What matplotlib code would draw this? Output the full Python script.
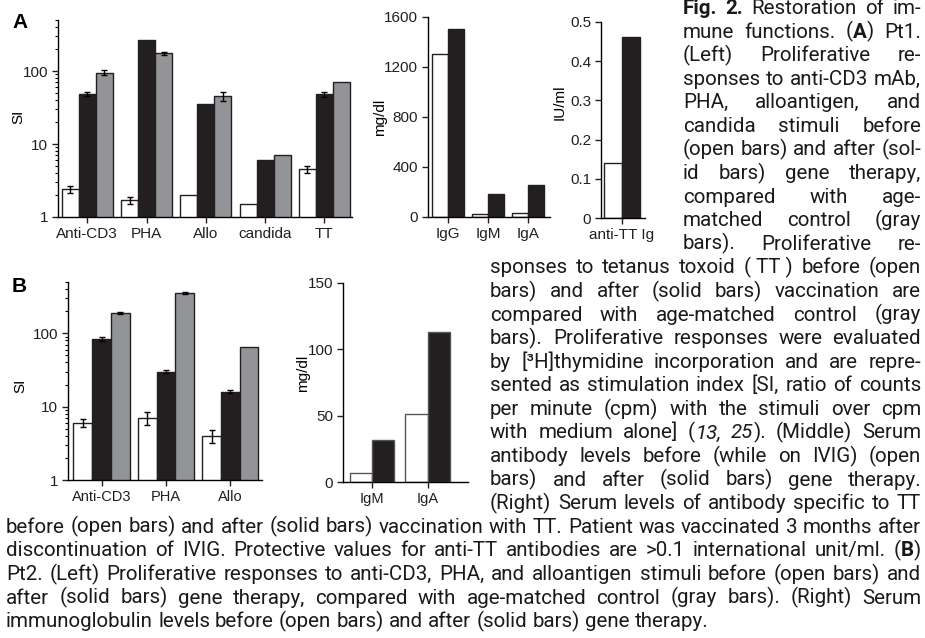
import re
import numpy as np
import matplotlib
matplotlib.use('Agg')
import matplotlib.pyplot as plt
from matplotlib.ticker import LogLocator, NullFormatter

plt.rcParams['font.family'] = ['Liberation Sans', 'DejaVu Sans']
plt.rcParams['axes.linewidth'] = 1.0

# ---- data ----
stim_a = ['Anti-CD3', 'PHA', 'Allo', 'candida', 'TT']
si_a_before = [2.4, 1.7, 2.0, 1.5, 4.5]
si_a_before_err = [0.3, 0.2, 0, 0, 0.5]
si_a_after = [48, 265, 35, 6.0, 48]
si_a_after_err = [3, 0, 0, 0, 4]
si_a_control = [95, 175, 45, 7.1, 71]
si_a_control_err = [8, 8, 6, 0, 0]

ig_a = ['IgG', 'IgM', 'IgA']
ig_a_before = [1300, 25, 35]
ig_a_after = [1500, 185, 255]

tt_a = ['anti-TT Ig']
tt_a_before = [0.14]
tt_a_after = [0.46]

stim_b = ['Anti-CD3', 'PHA', 'Allo']
si_b_before = [6.0, 7.0, 4.0]
si_b_before_err = [0.8, 1.4, 0.8]
si_b_after = [84, 30, 16]
si_b_after_err = [5, 1.2, 0.7]
si_b_control = [190, 350, 65]
si_b_control_err = [5, 12, 0]

ig_b = ['IgM', 'IgA']
ig_b_before = [7, 51]
ig_b_after = [32, 113]

# caption lines, as set in the journal column (** bold, _ italic)
caption_1 = [
    "**Fig.** **2.** Restoration of im-",
    "mune functions. (**A**) Pt1.",
    "(Left) Proliferative re-",
    "sponses to anti-CD3 mAb,",
    "PHA, alloantigen, and",
    "candida stimuli before",
    "(open bars) and after (sol-",
    "id bars) gene therapy,",
    "compared with age-",
    "matched control (gray",
    "bars). Proliferative re-",
]
caption_2 = [
    "sponses to tetanus toxoid (\u00a0TT\u00a0) before (open",
    "bars) and after (solid bars) vaccination are",
    "compared with age-matched control (gray",
    "bars). Proliferative responses were evaluated",
    "by [\u00b3H]thymidine incorporation and are repre-",
    "sented as stimulation index [SI, ratio of counts",
    "per minute (cpm) with the stimuli over cpm",
    "with medium alone] (_13,_ _25_). (Middle) Serum",
    "antibody levels before (while on IVIG) (open",
    "bars) and after (solid bars) gene therapy.",
    "(Right) Serum levels of antibody specific to TT",
]
caption_3 = [
    "before (open bars) and after (solid bars) vaccination with TT. Patient was vaccinated 3 months after",
    "discontinuation of IVIG. Protective values for anti-TT antibodies are >0.1 international unit/ml. (**B**)",
    "Pt2. (Left) Proliferative responses to anti-CD3, PHA, and alloantigen stimuli before (open bars) and",
    "after (solid bars) gene therapy, compared with age-matched control (gray bars). (Right) Serum",
    "immunoglobulin levels before (open bars) and after (solid bars) gene therapy.",
]

W, H = 925, 638
fig = plt.figure(figsize=(W / 100, H / 100), dpi=100)

BLACK = '#231f20'
GRAY = '#929497'


def px_axes(x0, y0, x1, y1):
    return fig.add_axes([x0 / W, 1 - y1 / H, (x1 - x0) / W, (y1 - y0) / H])


def style_axes(ax, labelsize=11):
    for s in ['top', 'right']:
        ax.spines[s].set_visible(False)
    ax.tick_params(direction='out', length=4, width=1, labelsize=labelsize, pad=3, colors='#231f20')
    ax.tick_params(which='minor', direction='out', length=2.2, width=0.8)
    ax.patch.set_alpha(0)


def si_chart(ax, cats, before, before_err, after, after_err, control, control_err, w, xlim, xlabelsize=11):
    x = np.arange(len(cats))
    ax.set_yscale('log')
    for xs, vals, errs, col in [(x - w, before, before_err, 'white'),
                                (x, after, after_err, BLACK),
                                (x + w, control, control_err, GRAY)]:
        ax.bar(xs, vals, w, color=col, edgecolor=BLACK, linewidth=1.0)
        errs = np.asarray(errs, float)
        m = errs > 0
        if m.any():
            ax.errorbar(xs[m], np.asarray(vals, float)[m], yerr=errs[m], fmt='none',
                        ecolor='k', elinewidth=1, capsize=2.5, capthick=1)
    ax.set_ylim(1, 500)
    ax.set_xlim(*xlim)
    ax.set_xticks(x)
    ax.set_xticklabels(cats)
    ax.set_yticks([1, 10, 100])
    ax.set_yticklabels(['1', '10', '100'])
    ax.yaxis.set_minor_locator(LogLocator(base=10, subs=np.arange(2, 10)))
    ax.yaxis.set_minor_formatter(NullFormatter())
    style_axes(ax)
    ax.tick_params(axis='x', labelsize=xlabelsize)
    ax.set_ylabel('SI', fontsize=11)


def ig_chart(ax, cats, before, after, w, xlim, yticks, ylabel, edge=BLACK):
    x = np.arange(len(cats))
    ax.bar(x - w / 2, before, w, color='white', edgecolor=edge, linewidth=1.0)
    ax.bar(x + w / 2, after, w, color=BLACK, edgecolor=edge, linewidth=1.0)
    ax.set_xlim(*xlim)
    ax.set_ylim(yticks[0], yticks[-1])
    ax.set_xticks(x)
    ax.set_xticklabels(cats)
    ax.set_yticks(yticks)
    ax.set_yticklabels([f'{v:g}' for v in yticks])
    style_axes(ax)
    ax.set_ylabel(ylabel, fontsize=11)


# ---- panel A ----
ax1 = px_axes(58, 20, 352, 217)
si_chart(ax1, stim_a, si_a_before, si_a_before_err, si_a_after, si_a_after_err,
         si_a_control, si_a_control_err, 0.287, (-0.495, 4.467))
ax1.yaxis.set_label_coords(-0.112, 0.508)

ax2 = px_axes(428, 17, 550, 217)
ig_chart(ax2, ig_a, ig_a_before, ig_a_after, 0.41, (-0.5, 2.55), [0, 400, 800, 1200, 1600], 'mg/dl')
ax2.yaxis.set_label_coords(-0.336, 0.5)

ax3 = px_axes(601, 21.7, 645, 218.3)
ig_chart(ax3, tt_a, tt_a_before, tt_a_after, 0.4, (-0.467, 0.511), [0, 0.1, 0.2, 0.3, 0.4, 0.5], 'IU/ml')
ax3.yaxis.set_label_coords(-0.773, 0.59)

# ---- panel B ----
ax4 = px_axes(68, 282, 262, 480)
si_chart(ax4, stim_b, si_b_before, si_b_before_err, si_b_after, si_b_after_err,
         si_b_control, si_b_control_err, 0.29, (-0.52, 2.49), xlabelsize=10.5)
ax4.yaxis.set_label_coords(-0.211, 0.475)

ax5 = px_axes(343, 283, 468, 482)
ig_chart(ax5, ig_b, ig_b_before, ig_b_after, 0.40, (-0.52, 1.72), [0, 50, 100, 150], 'mg/dl', edge='#555555')
ax5.tick_params(axis='x', labelsize=10.5)
ax5.yaxis.set_label_coords(-0.264, 0.548)

fig.text(12 / W, 1 - 28 / H, 'A', fontsize=15, fontweight='bold', va='baseline')
fig.text(12 / W, 1 - 292 / H, 'B', fontsize=15, fontweight='bold', va='baseline')

# ---- caption, justified ----
CAP_FONT = ['Roboto', 'DejaVu Sans']
renderer = fig.canvas.get_renderer()


def parse(word):
    segs = []
    for part in re.split(r'(\*\*.+?\*\*|_.+?_)', word):
        if not part:
            continue
        if part.startswith('**'):
            segs.append((part[2:-2], 'bold', 'normal'))
        elif len(part) > 2 and part[0] == '_' and part[-1] == '_':
            segs.append((part[1:-1], 'normal', 'italic'))
        else:
            segs.append((part, 'normal', 'normal'))
    return segs


def measure(s, fs, weight='normal', style='normal'):
    t = fig.text(0, 0, s, fontsize=fs, family=CAP_FONT, weight=weight, style=style)
    w = t.get_window_extent(renderer).width
    t.remove()
    return w


def word_width(segs, fs):
    return sum(measure(s, fs, wt, st) for s, wt, st in segs)


blocks = [(caption_1, 683, 921), (caption_2, 490, 921), (caption_3, 6, 921)]
rows = []
for lines, x0, x1 in blocks:
    for line in lines:
        rows.append((line, x0, x1))

fs0 = 16
space0 = measure('n n', fs0) - measure('nn', fs0)
ratio = 1.0
for k, (line, x0, x1) in enumerate(rows[:-1]):
    words = [parse(w) for w in line.split(' ')]
    natural = sum(word_width(w, fs0) for w in words) + space0 * (len(words) - 1)
    ratio = min(ratio, (x1 - x0) / natural)
fs = fs0 * ratio * 0.995
space = measure('n n', fs) - measure('nn', fs)

base0, step = 14, 23.58
for k, (line, x0, x1) in enumerate(rows):
    words = [parse(w) for w in line.split(' ')]
    widths = [word_width(w, fs) for w in words]
    last = k == len(rows) - 1
    gap = space if last or len(words) < 2 else (x1 - x0 - sum(widths)) / (len(words) - 1)
    yb = 1 - (base0 + k * step) / H
    x = x0
    for segs, ww in zip(words, widths):
        xs = x
        for s, wt, st in segs:
            fig.text(xs / W, yb, s, fontsize=fs, family=CAP_FONT, weight=wt, style=st,
                     va='baseline', ha='left', color='#1a1a1a')
            xs += measure(s, fs, wt, st)
        x += ww + gap

fig.savefig('out.png', dpi=100)
